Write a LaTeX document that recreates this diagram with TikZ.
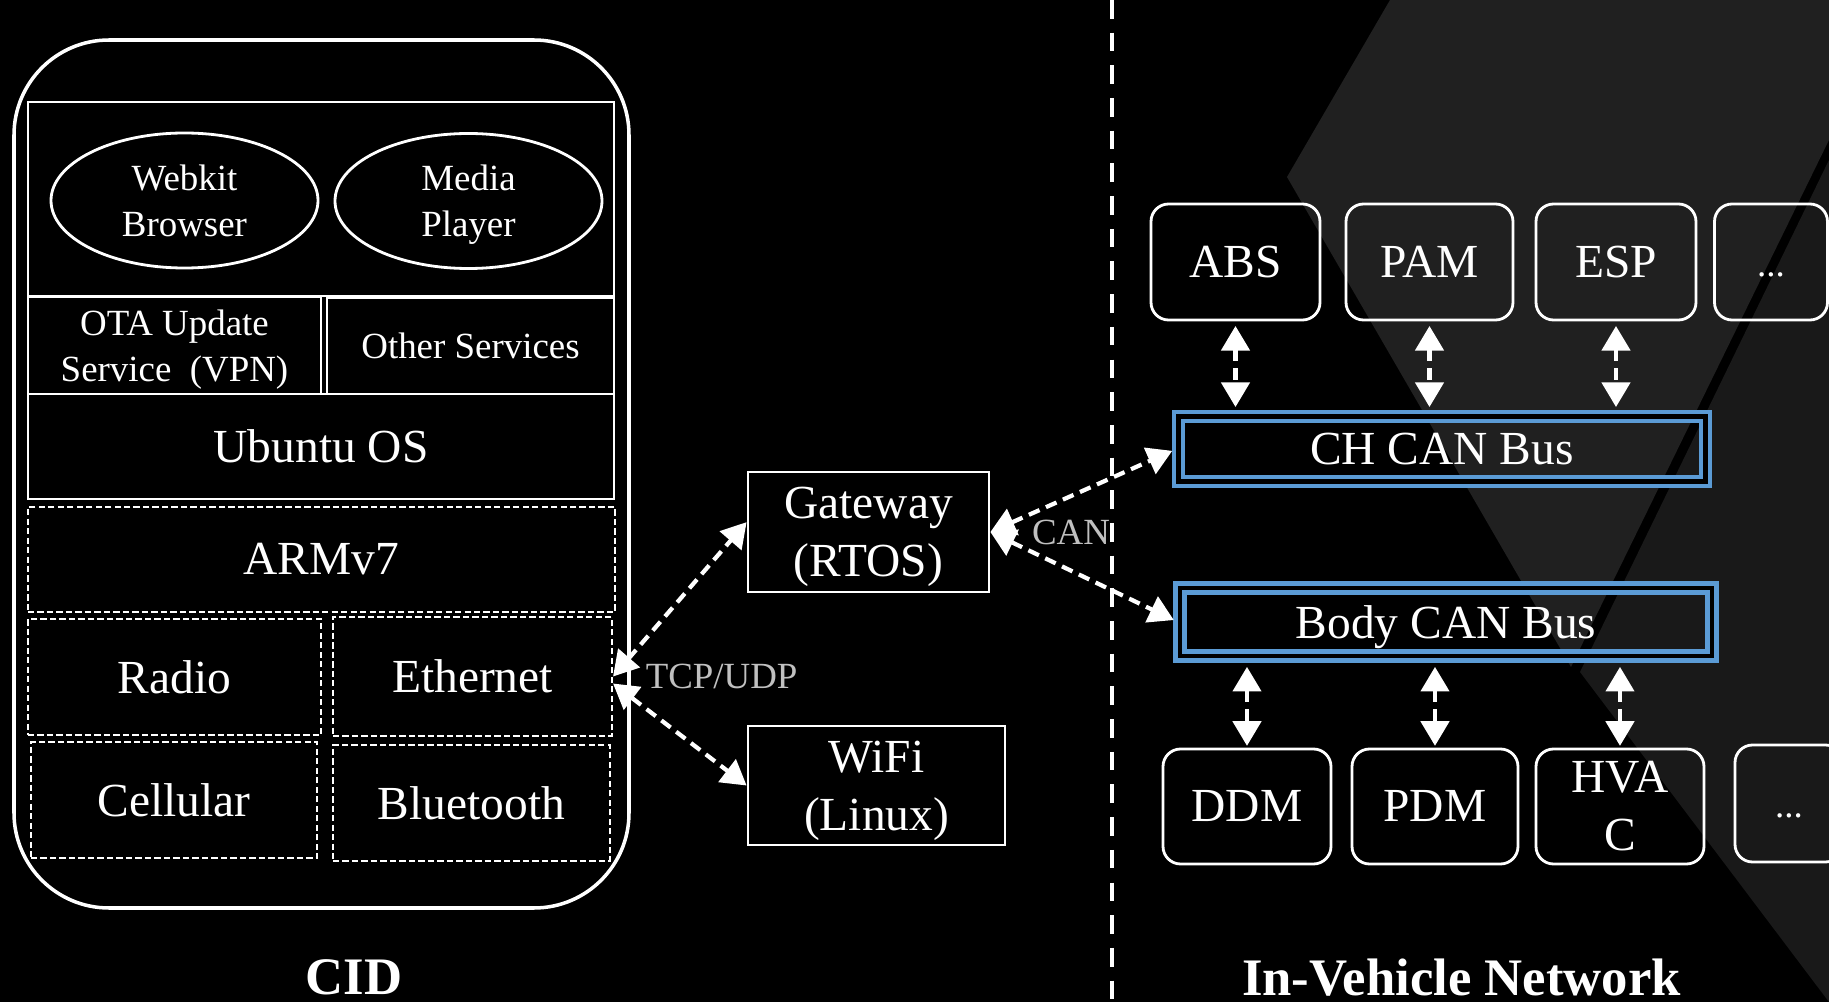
\documentclass[tikz,border=0pt]{standalone}
\usepackage{fontspec}
\setmainfont{Liberation Serif}
\usetikzlibrary{arrows.meta}
\usetikzlibrary{shapes.geometric}
\usetikzlibrary{positioning}

\definecolor{canblue}{HTML}{5B9BD5}
\definecolor{labelgray}{HTML}{C0C0C0}
\definecolor{shadeA}{HTML}{202020}
\definecolor{shadeB}{HTML}{191919}

\newcommand{\labfont}{\fontsize{10.5}{13}\selectfont}
\newcommand{\boxfont}{\fontsize{13.5}{16.5}\selectfont}
\newcommand{\headfont}{\fontsize{15}{18}\selectfont\bfseries}

\tikzset{
    layer/.style={rectangle, draw=white, line width=0.8pt, text=white, align=center, inner sep=0pt, text depth=0pt},
    hwbox/.style={rectangle, draw=white, line width=0.6pt, dash pattern=on 1.8pt off 0.9pt, text=white, font=\boxfont},
    app/.style={ellipse, draw=white, line width=0.8pt, text=white, align=center, inner sep=0pt, text depth=0pt, font=\labfont},
    ecu/.style={rectangle, rounded corners=5pt, draw=white, line width=0.8pt, text=white, align=center, inner sep=0pt, font=\boxfont},
    busbox/.style={rectangle, draw=canblue, line width=1.2pt, double=black, double distance=1.4pt, text=white, text depth=0pt, font=\boxfont},
    link/.style={draw=white, line width=1.2pt, dash pattern=on 3.3pt off 2pt, {Triangle[length=7pt,width=8pt]}-{Triangle[length=7pt,width=8pt]}},
    linklabel/.style={text=labelgray, font=\labfont, inner sep=0pt},
}

\begin{document}
\begin{tikzpicture}
        \useasboundingbox (0,0) rectangle (18.29,-10.02);
        \fill[black] (0,0) rectangle (18.29,-10.02);
        \clip (0,0) rectangle (18.29,-10.02);

        % background shading on the right
        \fill[shadeA] (13.90,0) -- (18.29,0) -- (18.29,-1.40) -- (15.71,-6.67) -- (12.87,-1.77) -- cycle;
        \fill[shadeB] (15.80,-6.72) -- (18.29,-1.60) -- (18.29,-10.02) -- cycle;

        \coordinate (divtop) at (11.12,0);
        \coordinate (divbot) at (11.12,-10.02);
        \draw[white, line width=1.15pt, dash pattern=on 5.3pt off 4pt] (divtop) -- (divbot);

        % CID
        \node (cid) at(3.215,-4.74) [
            rectangle, draw=white, line width=1pt, rounded corners=0.95cm,
            minimum width=6.15cm, minimum height=8.68cm,
        ] {};

        \node (apps) at(3.21,-1.99) [layer, minimum width=5.86cm, minimum height=1.94cm] {};
        \node (browser) at(1.845,-2.005) [app, minimum width=2.67cm, minimum height=1.35cm] {Webkit\\Browser};
        \node (player) at(4.685,-2.01) [app, minimum width=2.67cm, minimum height=1.35cm] {Media\\Player};

        \node (ota) at(1.745,-3.455) [
            layer, font=\labfont,
            minimum width=2.93cm, minimum height=0.97cm,
        ] {OTA Update\\Service\ \ (VPN)};
        \node (other) at(4.705,-3.46) [
            layer, font=\labfont,
            minimum width=2.87cm, minimum height=0.96cm,
        ] {Other Services};
        \node (ubuntu) at(3.21,-4.465) [
            layer, font=\boxfont,
            minimum width=5.86cm, minimum height=1.05cm,
        ] {Ubuntu OS};

        \node (armv) at(3.215,-5.595) [hwbox, minimum width=5.87cm, minimum height=1.05cm] {ARMv7};
        \node (radio) at(1.745,-6.77) [hwbox, minimum width=2.93cm, minimum height=1.16cm] {Radio};
        \node (eth) at(4.725,-6.765) [hwbox, minimum width=2.79cm, minimum height=1.19cm] {Ethernet};
        \node (cellular) at(1.74,-8.00) [hwbox, minimum width=2.86cm, minimum height=1.16cm] {Cellular};
        \node (bt) at(4.715,-8.03) [hwbox, minimum width=2.77cm, minimum height=1.16cm] {Bluetooth};

        \node (cidtitle) at(3.54,-9.775) [text=white, font=\headfont] {CID};

        % gateway and wifi
        \node (gw) at(8.685,-5.32) [
            layer, font=\boxfont,
            minimum width=2.41cm, minimum height=1.20cm,
        ] {Gateway\\(RTOS)};
        \node (wifi) at(8.765,-7.855) [
            layer, font=\boxfont,
            minimum width=2.57cm, minimum height=1.19cm,
        ] {WiFi\\(Linux)};

        \node (tcp) [linklabel, right=0.32cm of eth] {TCP/UDP};
        \node (can) [linklabel, right=0.41cm of gw] {CAN};

        % in-vehicle network
        \node (abs) at(12.355,-2.62) [ecu, minimum width=1.69cm, minimum height=1.16cm] {ABS};
        \node (pam) at(14.295,-2.62) [ecu, minimum width=1.67cm, minimum height=1.16cm] {PAM};
        \node (esp) at(16.16,-2.62) [ecu, minimum width=1.60cm, minimum height=1.16cm] {ESP};
        \node (more1) at(17.71,-2.62) [
            ecu, font=\labfont, text height=2ex, text depth=.25ex,
            minimum width=1.13cm, minimum height=1.16cm,
        ] {...};

        \node (chbus) at(14.42,-4.49) [busbox, minimum width=5.27cm, minimum height=0.65cm] {CH CAN Bus};
        \node (bodybus) at(14.46,-6.22) [busbox, minimum width=5.32cm, minimum height=0.68cm] {Body CAN Bus};

        \node (ddm) at(12.47,-8.065) [ecu, minimum width=1.68cm, minimum height=1.15cm] {DDM};
        \node (pdm) at(14.35,-8.065) [ecu, minimum width=1.66cm, minimum height=1.15cm] {PDM};
        \node (hvac) at(16.20,-8.065) [ecu, minimum width=1.68cm, minimum height=1.15cm] {HVA\\C};
        \node (more2) at(17.89,-8.035) [
            ecu, font=\labfont, text height=2ex, text depth=.25ex,
            minimum width=1.08cm, minimum height=1.17cm,
        ] {...};

        \node (ivntitle) at(14.615,-9.775) [text=white, font=\headfont] {In-Vehicle Network};

        % links
        \draw[link] (eth.east) -- ([yshift=2.8pt]gw.west);
        \draw[link] ([yshift=-2pt]eth.east) -- (wifi.west);
        \draw[link, shorten >=1.3pt] (gw.east) -- (chbus.west);
        \draw[link, shorten >=1.3pt] (gw.east) -- (bodybus.west);

        \draw[link, shorten <=1.3pt, shorten >=2.1pt] (abs.south) -- (abs.south |- chbus.north);
        \draw[link, shorten <=1.3pt, shorten >=2.1pt] (pam.south) -- (pam.south |- chbus.north);
        \draw[link, shorten <=1.3pt, shorten >=2.1pt] (esp.south) -- (esp.south |- chbus.north);

        \draw[link, shorten <=2.5pt, shorten >=0.5pt] (ddm.north |- bodybus.south) -- (ddm.north);
        \draw[link, shorten <=2.5pt, shorten >=0.5pt] (pdm.north |- bodybus.south) -- (pdm.north);
        \draw[link, shorten <=2.5pt, shorten >=0.5pt] (hvac.north |- bodybus.south) -- (hvac.north);
    \end{tikzpicture}
\end{document}
